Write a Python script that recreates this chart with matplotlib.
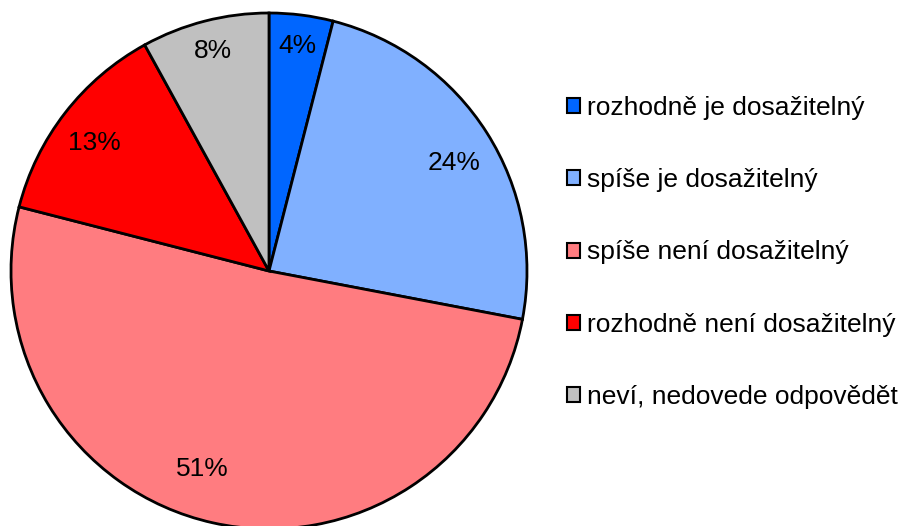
import numpy as np
import matplotlib.pyplot as plt

plt.rcParams['font.family'] = ['Liberation Sans', 'DejaVu Sans']

# Data
kategorie = ["rozhodně je dosažitelný", "spíše je dosažitelný",
             "spíše není dosažitelný", "rozhodně není dosažitelný",
             "neví, nedovede odpovědět"]
hodnoty = [4, 24, 51, 13, 8]
barvy = ["#0066FF", "#80B0FF", "#FF7C80", "#FF0000", "#C0C0C0"]

fig = plt.figure(figsize=(9.04, 5.26), dpi=100)
ax = fig.add_axes([0, 0, 1, 1])

# pixel-like data units, pie centre at (269, 271) from top-left
cx, cy = 269, 271
R = 258

wedges, texty = ax.pie(hodnoty, colors=barvy, startangle=90, counterclock=False,
                       radius=R, center=(0, 0),
                       wedgeprops=dict(edgecolor="black", linewidth=2),
                       labels=[f"{v}%" for v in hodnoty], labeldistance=0.85,
                       textprops=dict(fontsize=19, ha="center", va="center"))

# posun popisku jako v Excelu
vzdal = [0.88, 0.83, 0.81, 0.84, 0.88]
posun_uhlu = [0, -2, -6, 1.5, 0]
for w, t, d, du in zip(wedges, texty, vzdal, posun_uhlu):
    uhel = np.deg2rad((w.theta1 + w.theta2) / 2 + du)
    t.set_position((d * R * np.cos(uhel), d * R * np.sin(uhel)))

ax.set_xlim(-cx, 904 - cx)
ax.set_ylim(-(526 - cy), cy)
ax.set_aspect('equal')
ax.axis('off')

leg = ax.legend(wedges, kategorie, loc="center left", bbox_to_anchor=(0.627, 0.52),
                frameon=False, fontsize=19, handlelength=0.5, handleheight=0.5,
                handletextpad=0.25, labelspacing=1.83, borderpad=0, borderaxespad=0)
for h in leg.legend_handles:
    h.set_linewidth(1.5)

fig.savefig("out.png", dpi=100)
